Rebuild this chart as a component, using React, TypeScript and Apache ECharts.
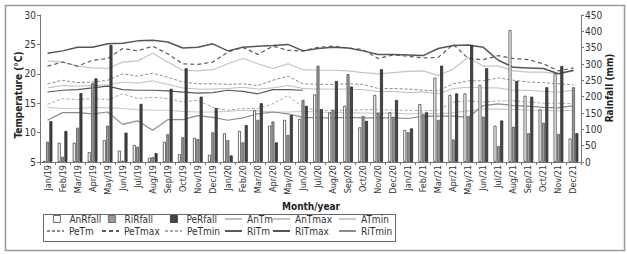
import React, { useEffect, useRef } from "react";
import * as echarts from "echarts";

const months = [
  "Jan/19","Feb/19","Mar/19","Apr/19","May/19","Jun/19","Jul/19","Aug/19","Sep/19","Oct/19","Nov/19","Dec/19",
  "Jan/20","Feb/20","Mar/20","Apr/20","May/20","Jun/20","Jul/20","Aug/20","Sep/20","Oct/20","Nov/20","Dec/20",
  "Jan/21","Feb/21","Mar/21","Apr/21","May/21","Jun/21","Jul/21","Aug/21","Sep/21","Oct/21","Nov/21","Dec/21",
];

const tempTicks = { min: 5, max: 30, interval: 5 };
const rainTicks = { min: 0, max: 450, interval: 50 };

const anRfall = [3, 59, 59, 30, 67, 35, 52, 13, 62, 24, 74, 22, 88, 95, 159, 111, 129, 132, 207, 152, 172, 106, 205, 152, 98, 177, 258, 205, 210, 236, 111, 404, 203, 161, 271, 72];
const riRfall = [62, 16, 105, 241, 111, 4, 47, 15, 85, 76, 70, 91, 67, 60, 129, 124, 83, 190, 295, 160, 269, 141, 151, 138, 91, 146, 129, 69, 139, 139, 49, 108, 88, 120, 86, 229];
const peRfall = [125, 95, 211, 256, 358, 90, 178, 27, 224, 287, 200, 165, 20, 113, 180, 60, 144, 172, 162, 248, 231, 126, 284, 190, 103, 152, 295, 210, 358, 287, 127, 248, 200, 229, 294, 88];

const anTm = [17.6, 18.0, 17.9, 18.0, 18.1, 18.6, 18.4, 18.8, 18.2, 17.6, 17.4, 17.4, 17.5, 17.7, 17.4, 17.6, 18.0, 17.5, 17.4, 17.4, 17.4, 17.3, 17.0, 17.0, 16.8, 16.9, 16.6, 17.5, 17.7, 17.6, 17.6, 17.2, 17.2, 17.0, 16.9, 17.2];
const anTmax = [22.2, 22.0, 21.3, 21.0, 20.9, 22.0, 22.2, 23.5, 22.0, 20.6, 20.5, 20.7, 21.7, 22.6, 21.7, 20.9, 21.7, 20.7, 20.6, 20.6, 20.5, 20.2, 20.0, 20.2, 20.4, 20.5, 19.7, 20.8, 22.8, 21.3, 21.3, 20.5, 20.3, 20.3, 20.0, 20.5];
const aTmin = [14.3, 14.1, 14.1, 14.3, 14.2, 14.1, 13.9, 13.8, 13.8, 13.6, 13.5, 13.5, 13.6, 13.8, 13.7, 13.5, 13.5, 13.6, 13.5, 13.4, 13.4, 13.3, 13.3, 13.3, 13.2, 13.3, 13.2, 13.4, 13.7, 14.0, 14.0, 13.9, 13.8, 13.8, 13.7, 13.8];
const peTm = [18.3, 18.9, 18.5, 18.6, 18.9, 20.0, 19.6, 20.1, 19.4, 18.6, 18.3, 18.3, 18.2, 18.3, 18.0, 18.9, 19.6, 18.3, 18.2, 18.2, 18.3, 18.2, 17.5, 17.5, 17.4, 17.2, 17.1, 18.3, 18.8, 18.8, 19.3, 18.9, 18.6, 18.5, 18.3, 18.1];
const peTmax = [21.3, 22.0, 21.3, 22.3, 22.6, 24.3, 23.9, 24.7, 23.4, 21.7, 21.6, 22.0, 23.7, 24.5, 23.3, 24.7, 24.0, 23.9, 24.5, 24.7, 24.4, 24.1, 22.6, 23.2, 23.0, 22.7, 22.8, 25.0, 22.6, 22.4, 23.1, 22.6, 22.4, 21.7, 20.5, 21.0];
const peTmin = [14.8, 15.8, 15.6, 15.8, 15.6, 16.6, 15.8, 16.0, 15.8, 15.2, 15.5, 14.3, 13.8, 14.1, 14.1, 14.9, 16.3, 14.3, 13.8, 13.8, 13.8, 13.9, 13.9, 13.8, 13.8, 13.7, 13.8, 15.2, 15.4, 15.2, 15.4, 15.4, 15.2, 15.0, 15.0, 14.9];
const riTm: (number | null)[] = [16.9, 17.2, 17.3, 17.6, 17.9, 17.3, 17.2, 17.2, 17.1, 16.9, 16.7, 16.8, 17.2, 17.0, 16.6, 17.3, 17.3, 17.2, null, null, null, null, null, null, null, null, null, null, null, null, null, null, null, null, null, null];
const riTmax = [23.5, 23.9, 24.5, 24.5, 25.1, 25.2, 25.6, 25.7, 25.4, 24.4, 24.5, 25.1, 23.9, 24.5, 24.7, 24.8, 25.0, 23.9, 24.3, 24.5, 24.4, 23.9, 23.3, 23.3, 23.2, 23.1, 24.3, 24.8, 24.9, 24.5, 22.3, 21.1, 21.0, 20.9, 20.0, 20.6];
const riTmin = [12.1, 13.4, 13.4, 13.2, 13.5, 11.4, 12.0, 10.4, 12.2, 12.2, 12.9, 12.6, 12.1, 12.5, 13.2, 13.5, 13.2, 12.6, 12.5, 12.5, 12.6, 12.5, 12.5, 12.5, 12.4, 12.8, 12.8, 12.8, 12.6, 14.6, 14.9, 14.6, 14.5, 14.3, 14.2, 14.6];

const FONT = "'Liberation Sans Narrow', 'DejaVu Sans Condensed', 'Liberation Sans', sans-serif";

export default function App() {
  const ref = useRef<HTMLDivElement>(null);
  useEffect(() => {
    if (!ref.current) return;
    const chart = echarts.init(ref.current, null, { renderer: "svg" });

    const barDefs = [
      { name: "AnRfall", data: anRfall, color: "#ffffff", border: "#444" },
      { name: "RiRfall", data: riRfall, color: "#9a9a9a", border: "#555" },
      { name: "PeRfall", data: peRfall, color: "#454545", border: "#2a2a2a" },
    ];
    const barSeries = barDefs.map((b) => ({
      name: b.name,
      type: "bar",
      yAxisIndex: 1,
      data: b.data,
      barWidth: 3,
      barGap: "12%",
      z: 3,
      itemStyle: { color: b.color, borderColor: b.border, borderWidth: 0.8 },
    }));

    const lineDefs = [
      { name: "AnTm", data: anTm, color: "#bdbdbd", width: 1, type: "solid" as any },
      { name: "AnTmax", data: anTmax, color: "#c4c4c4", width: 1.2, type: "solid" as any },
      { name: "ATmin", data: aTmin, color: "#cccccc", width: 1.2, type: "solid" as any },
      { name: "PeTm", data: peTm, color: "#8a8a8a", width: 1, type: [3, 2] as any },
      { name: "PeTmax", data: peTmax, color: "#5a5a5a", width: 1.2, type: [4, 3] as any },
      { name: "PeTmin", data: peTmin, color: "#a8a8a8", width: 1, type: [3, 2] as any },
      { name: "RiTm", data: riTm, color: "#5a5a5a", width: 1.2, type: "solid" as any },
      { name: "RiTmax", data: riTmax, color: "#555555", width: 1.5, type: "solid" as any },
      { name: "RiTmin", data: riTmin, color: "#8c8c8c", width: 1.2, type: "solid" as any },
    ];
    const lineSeries = lineDefs.map((l) => ({
      name: l.name,
      type: "line",
      yAxisIndex: 0,
      data: l.data,
      symbol: "none",
      z: 2,
      connectNulls: false,
      itemStyle: { color: l.color },
      lineStyle: { color: l.color, width: l.width, type: l.type },
    }));

    const legendItems = [
      { name: "AnRfall", left: 53, row: 0, bar: true },
      { name: "RiRfall", left: 108, row: 0, bar: true },
      { name: "PeRfall", left: 170, row: 0, bar: true },
      { name: "AnTm", left: 224, row: 0 },
      { name: "AnTmax", left: 272, row: 0 },
      { name: "ATmin", left: 338, row: 0 },
      { name: "PeTm", left: 46, row: 1 },
      { name: "PeTmax", left: 101, row: 1 },
      { name: "PeTmin", left: 164, row: 1 },
      { name: "RiTm", left: 224, row: 1 },
      { name: "RiTmax", left: 272, row: 1 },
      { name: "RiTmin", left: 338, row: 1 },
    ];
    const legends = legendItems.map((it: any) => {
      const base: any = {
        data: [it.name],
        left: it.left,
        top: it.row === 0 ? 214 : 226,
        padding: 0,
        selectedMode: false,
        textStyle: {
          fontFamily: FONT,
          fontSize: 10,
          color: "#333",
          padding: it.bar ? [0, 0, 0, 4] : [0, 0, 0, 0],
        },
      };
      if (it.bar) {
        const b = barDefs.find((d) => d.name === it.name)!;
        base.itemWidth = 7;
        base.itemHeight = 7;
        base.icon = "rect";
        base.itemStyle = { color: b.color, borderColor: b.border, borderWidth: 0.8 };
      } else {
        base.itemWidth = 17;
        base.itemHeight = 8;
        base.itemStyle = { opacity: 0, borderWidth: 0 };
      }
      return base;
    });

    const axisCommon = {
      axisLine: { show: true, lineStyle: { color: "#777", width: 1 } },
      axisTick: { show: true, length: 3, lineStyle: { color: "#777" } },
      splitLine: { show: false },
      axisLabel: { fontFamily: FONT, fontSize: 10, color: "#333", margin: 4 },
    };

    chart.setOption({
      animation: false,
      backgroundColor: "#ffffff",
      textStyle: { fontFamily: FONT },
      grid: { left: 40, right: 46, top: 15, bottom: 92, containLabel: false },
      legend: legends,
      xAxis: {
        type: "category",
        data: months,
        boundaryGap: true,
        axisLine: { show: true, lineStyle: { color: "#777", width: 1 } },
        axisTick: { show: true, length: 3, interval: 0, lineStyle: { color: "#777" } },
        axisLabel: { rotate: 90, interval: 0, fontFamily: FONT, fontSize: 9, color: "#333", margin: 3 },
        splitLine: { show: false },
      },
      yAxis: [
        { type: "value", position: "left", min: tempTicks.min, max: tempTicks.max, interval: tempTicks.interval, ...axisCommon },
        { type: "value", position: "right", min: rainTicks.min, max: rainTicks.max, interval: rainTicks.interval, ...axisCommon },
      ],
      graphic: [
        { type: "rect", left: 3, top: 3, shape: { x: 0, y: 0, width: 619, height: 245 }, style: { fill: "none", stroke: "#9a9a9a", lineWidth: 1.5 }, silent: true, z: -1 },
        { type: "rect", left: 41, top: 212, shape: { x: 0, y: 0, width: 352, height: 27 }, style: { fill: "none", stroke: "#666", lineWidth: 1 }, silent: true },
        { type: "text", x: 311, y: 206, style: { text: "Month/year", fontFamily: FONT, fontSize: 10, fontWeight: "bold", fill: "#222", align: "center", verticalAlign: "middle" } },
        { type: "text", x: 18, y: 95, rotation: Math.PI / 2, style: { text: "Temperature (°C)", fontFamily: FONT, fontSize: 10, fontWeight: "bold", fill: "#222", align: "center", verticalAlign: "middle" } },
        { type: "text", x: 609, y: 88, rotation: Math.PI / 2, style: { text: "Rainfall (mm)", fontFamily: FONT, fontSize: 10, fontWeight: "bold", fill: "#222", align: "center", verticalAlign: "middle" } },
      ],
      series: [...lineSeries, ...barSeries],
    } as any);

    return () => chart.dispose();
  }, []);

  return (
    <div
      ref={ref}
      style={{ position: "fixed", left: 0, top: 0, width: 627, height: 254, background: "#fff" }}
    />
  );
}
